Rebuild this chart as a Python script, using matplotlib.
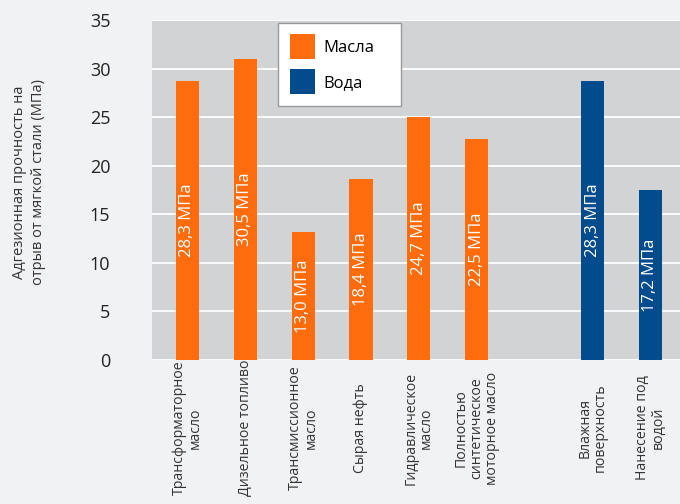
import numpy as np
import matplotlib.pyplot as plt
from matplotlib.patches import Patch

plt.rcParams['font.family'] = ['Open Sans', 'DejaVu Sans']

# data (bar heights as drawn, labels as printed)
categories = ['Трансформаторное\nмасло', 'Дизельное топливо', 'Трансмиссионное\nмасло',
              'Сырая нефть', 'Гидравлическое\nмасло', 'Полностью\nсинтетическое\nмоторное масло',
              'Влажная\nповерхность', 'Нанесение под\nводой']
values = [28.7, 31.0, 13.2, 18.6, 25.0, 22.7, 28.7, 17.5]
groups = ['oil', 'oil', 'oil', 'oil', 'oil', 'oil', 'water', 'water']
value_labels = ['28,3 МПа', '30,5 МПа', '13,0 МПа', '18,4 МПа', '24,7 МПа', '22,5 МПа',
                '28,3 МПа', '17,2 МПа']
positions = [0, 1, 2, 3, 4, 5, 7, 8]
yticks = [0, 5, 10, 15, 20, 25, 30, 35]

orange = '#ff6c0e'
blue = '#024b8d'
colors = {'oil': orange, 'water': blue}

fig = plt.figure(figsize=(6.8, 5.04), dpi=100, facecolor='#f1f2f4')
ax = fig.add_axes([152 / 680, 1 - 360 / 504, 528 / 680, 340 / 504])
ax.set_facecolor('#d1d3d5')

ax.bar(positions, values, width=0.4, color=[colors[g] for g in groups], zorder=3)

for x, v, lab in zip(positions, values, value_labels):
    ax.text(x, v / 2, lab, rotation=90, ha='center', va='center',
            color='white', fontsize=12, zorder=4)

ax.set_xlim(-0.61, 8.51)
ax.set_ylim(0, 35)
ax.set_yticks(yticks)
ax.set_yticklabels([str(t) for t in yticks], fontsize=13, color='#222222')
ax.tick_params(axis='y', length=0, pad=30)
ax.set_xticks([])
ax.grid(axis='y', color='white', linewidth=1.3, zorder=1)
for s in ax.spines.values():
    s.set_visible(False)

for x, cat in zip(positions, categories):
    ax.text(x, -0.2, cat, transform=ax.get_xaxis_transform(), rotation=90,
            ha='center', va='center', multialignment='center',
            fontsize=10.2, color='#333333', linespacing=1.05)

fig.text(29 / 680, 1 - 182 / 504,
         'Адгезионная прочность на\nотрыв от мягкой стали (МПа)',
         rotation=90, ha='center', va='center', fontsize=10.5, color='#333333',
         linespacing=1.4)

handles = [Patch(facecolor=orange, label='Масла'), Patch(facecolor=blue, label='Вода')]
leg = ax.legend(handles=handles, loc='upper left',
                bbox_to_anchor=(126 / 528, 1 - 6 / 340, 123 / 528, 0.01),
                mode='expand', fontsize=12, frameon=True, fancybox=False,
                handlelength=1.5, handleheight=1.9, handletextpad=0.55,
                labelspacing=0.62, borderpad=0.7, borderaxespad=0)
leg.get_frame().set_edgecolor('#999999')
leg.get_frame().set_linewidth(1.0)
leg.get_frame().set_facecolor('white')
leg.get_frame().set_alpha(1)
leg.set_zorder(5)

fig.savefig('out.png', dpi=100, facecolor=fig.get_facecolor())
